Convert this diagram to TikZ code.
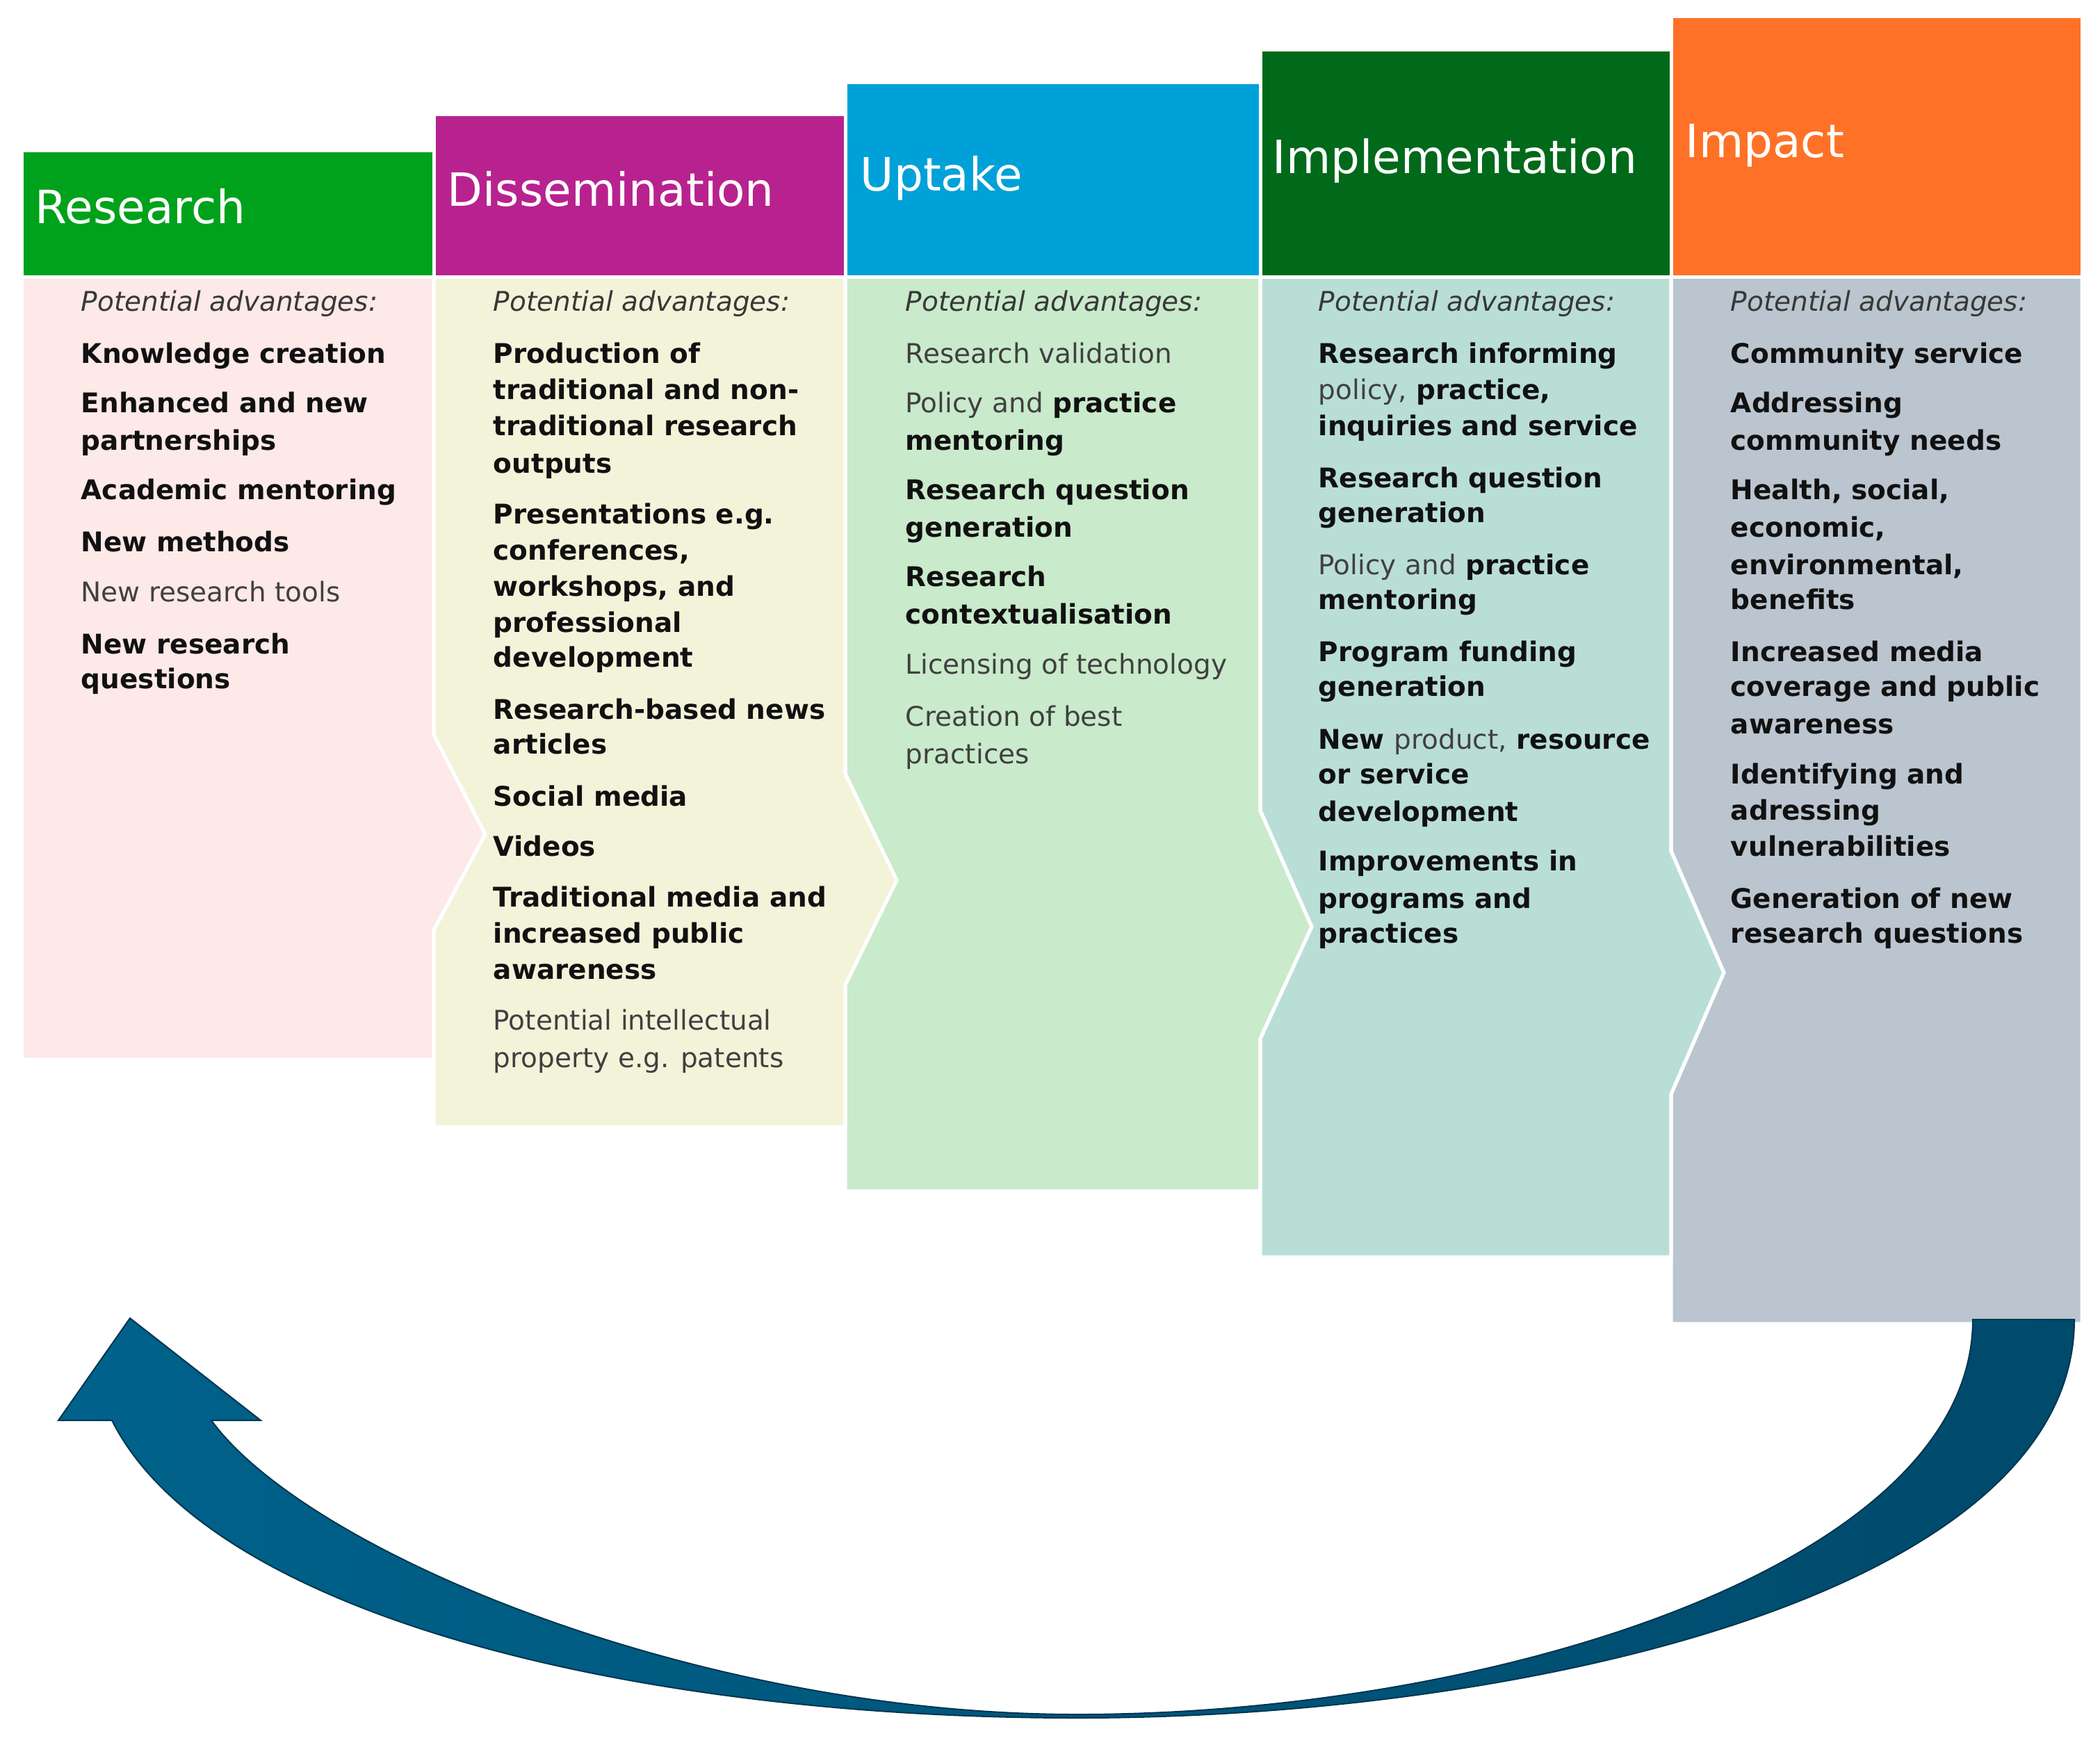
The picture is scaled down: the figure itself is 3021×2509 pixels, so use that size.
\documentclass[tikz,border=0pt]{standalone}
\usepackage{fontspec}
\setmainfont{DejaVu Sans}[ItalicFont={DejaVu Sans Oblique},BoldFont={DejaVu Sans Bold},BoldItalicFont={DejaVu Sans Bold Oblique}]
\definecolor{hRes}{HTML}{00A21B}
\definecolor{hDis}{HTML}{B8228F}
\definecolor{hUpt}{HTML}{00A1D8}
\definecolor{hImp}{HTML}{00691A}
\definecolor{hImc}{HTML}{FF7126}
\definecolor{bRes}{HTML}{FDE9E7}
\definecolor{bDis}{HTML}{F3F3DA}
\definecolor{bUpt}{HTML}{C9EACB}
\definecolor{bImp}{HTML}{B9DED6}
\definecolor{bImc}{HTML}{BAC5CF}
\definecolor{tbold}{HTML}{111111}
\definecolor{treg}{HTML}{404040}
\definecolor{tital}{HTML}{383838}
\definecolor{arrL}{HTML}{00628B}
\definecolor{arrR}{HTML}{004A6B}
\definecolor{arrE}{HTML}{00354F}
\newcommand\bo[1]{{\bfseries\color{tbold}#1}}
\newcommand\rg[1]{{\mdseries\color{treg}#1}}
\newcommand\potadv{{\mdseries\itshape\color{tital}Potential advantages:}}
\newcommand\txtline[4]{\node[txt] (#1) at (#2,#3) {#4};}
\begin{document}
\begin{tikzpicture}[x=0.25pt,y=-0.25pt,
  hbox/.style={draw=white,line width=1.25pt},
  bbox/.style={draw=white,line width=1.25pt,line join=miter},
  htext/.style={anchor=base west,inner sep=0pt,text=white,font=\fontsize{16.5}{20}\selectfont},
  txt/.style={anchor=base west,inner sep=0pt,font=\fontsize{9.75}{13.5}\selectfont\bfseries,text=tbold},
  arrowsty/.style={left color=arrL,right color=arrR,draw=arrE,line width=0.5pt,line join=miter}]
\useasboundingbox (0,0) rectangle (3021,2509);
% ---------- bodies ----------
\fill[bRes,bbox] (31,398) -- (624,398) -- (624,1057) -- (698,1200) -- (624,1338) -- (624,1524) -- (31,1524) -- cycle;
\fill[bDis,bbox] (624,398) -- (1216,398) -- (1216,1113) -- (1290,1266) -- (1216,1417) -- (1216,1621) -- (624,1621) -- (624,1338) -- (698,1200) -- (624,1057) -- cycle;
\fill[bUpt,bbox] (1216,398) -- (1813,398) -- (1813,1166) -- (1887,1333) -- (1813,1494) -- (1813,1713) -- (1216,1713) -- (1216,1417) -- (1290,1266) -- (1216,1113) -- cycle;
\fill[bImp,bbox] (1813,398) -- (2404,398) -- (2404,1224) -- (2480,1399) -- (2404,1574) -- (2404,1808) -- (1813,1808) -- (1813,1494) -- (1887,1333) -- (1813,1166) -- cycle;
\fill[bImc,bbox] (2404,398) -- (2995,398) -- (2995,1904) -- (2404,1904) -- (2404,1574) -- (2480,1399) -- (2404,1224) -- cycle;
\draw[bbox] (31,398) -- (624,398) -- (624,1057) -- (698,1200) -- (624,1338) -- (624,1524) -- (31,1524) -- cycle;
\draw[bbox] (1216,398) -- (1216,1113) -- (1290,1266) -- (1216,1417) -- (1216,1621);
\draw[bbox] (1813,398) -- (1813,1166) -- (1887,1333) -- (1813,1494) -- (1813,1713);
\draw[bbox] (2404,398) -- (2404,1224) -- (2480,1399) -- (2404,1574) -- (2404,1808);
% ---------- headers ----------
\fill[hRes,hbox] (31,216) rectangle (624,398);
\fill[hDis,hbox] (624,164) rectangle (1216,398);
\fill[hUpt,hbox] (1216,118) rectangle (1813,398);
\fill[hImp,hbox] (1813,71) rectangle (2404,398);
\fill[hImc,hbox] (2404,23) rectangle (2995,398);
\node[htext] (hR) at (50,321) {Research};
\node[htext] (hD) at (643,296) {Dissemination};
\node[htext] (hU) at (1237,274) {Uptake};
\node[htext] (hI) at (1830,249) {Implementation};
\node[htext] (hP) at (2424,226) {Impact};
% ---------- Research ----------
\txtline{r0}{116}{447}{\potadv}
\txtline{r1}{116}{522}{Knowledge creation}
\txtline{r2}{116}{593}{Enhanced and new}
\txtline{r3}{116}{647}{partnerships}
\txtline{r4}{116}{718}{Academic mentoring}
\txtline{r5}{116}{793}{New methods}
\txtline{r6}{116}{865}{\rg{New research tools}}
\txtline{r7}{116}{940}{New research}
\txtline{r8}{116}{990}{questions}
% ---------- Dissemination ----------
\txtline{d0}{709}{447}{\potadv}
\txtline{d1}{709}{522}{Production of}
\txtline{d2}{709}{574}{traditional and non-}
\txtline{d3}{709}{626}{traditional research}
\txtline{d4}{709}{680}{outputs}
\txtline{d5}{709}{753}{Presentations e.g.}
\txtline{d6}{709}{805}{conferences,}
\txtline{d7}{709}{857}{workshops, and}
\txtline{d8}{709}{909}{professional}
\txtline{d9}{709}{959}{development}
\txtline{d10}{709}{1034}{Research-based news}
\txtline{d11}{709}{1084}{articles}
\txtline{d12}{709}{1159}{Social media}
\txtline{d13}{709}{1231}{Videos}
\txtline{d14}{709}{1304}{Traditional media and}
\txtline{d15}{709}{1356}{increased public}
\txtline{d16}{709}{1408}{awareness}
\txtline{d17}{709}{1481}{\rg{Potential intellectual}}
\txtline{d18}{709}{1535}{\rg{property e.g. patents}}
% ---------- Uptake ----------
\txtline{u0}{1302}{447}{\potadv}
\txtline{u1}{1302}{522}{\rg{Research validation}}
\txtline{u2}{1302}{593}{\rg{Policy and} practice}
\txtline{u3}{1302}{647}{mentoring}
\txtline{u4}{1302}{718}{Research question}
\txtline{u5}{1302}{772}{generation}
\txtline{u6}{1302}{843}{Research}
\txtline{u7}{1302}{897}{contextualisation}
\txtline{u8}{1302}{969}{\rg{Licensing of technology}}
\txtline{u9}{1302}{1044}{\rg{Creation of best}}
\txtline{u10}{1302}{1098}{\rg{practices}}
% ---------- Implementation ----------
\txtline{i0}{1896}{447}{\potadv}
\txtline{i1}{1896}{522}{Research informing}
\txtline{i2}{1896}{574}{\rg{policy,} practice,}
\txtline{i3}{1896}{626}{inquiries and service}
\txtline{i4}{1896}{701}{Research question}
\txtline{i5}{1896}{751}{generation}
\txtline{i6}{1896}{826}{\rg{Policy and} practice}
\txtline{i7}{1896}{876}{mentoring}
\txtline{i8}{1896}{951}{Program funding}
\txtline{i9}{1896}{1001}{generation}
\txtline{i10}{1896}{1077}{New \rg{product,} resource}
\txtline{i11}{1896}{1127}{or service}
\txtline{i12}{1896}{1181}{development}
\txtline{i13}{1896}{1252}{Improvements in}
\txtline{i14}{1896}{1306}{programs and}
\txtline{i15}{1896}{1356}{practices}
% ---------- Impact ----------
\txtline{p0}{2489}{447}{\potadv}
\txtline{p1}{2489}{522}{Community service}
\txtline{p2}{2489}{593}{Addressing}
\txtline{p3}{2489}{647}{community needs}
\txtline{p4}{2489}{718}{Health, social,}
\txtline{p5}{2489}{772}{economic,}
\txtline{p6}{2489}{826}{environmental,}
\txtline{p7}{2489}{876}{benefits}
\txtline{p8}{2489}{951}{Increased media}
\txtline{p9}{2489}{1001}{coverage and public}
\txtline{p10}{2489}{1055}{awareness}
\txtline{p11}{2489}{1127}{Identifying and}
\txtline{p12}{2489}{1179}{adressing}
\txtline{p13}{2489}{1231}{vulnerabilities}
\txtline{p14}{2489}{1306}{Generation of new}
\txtline{p15}{2489}{1356}{research questions}
% ---------- return arrow ----------
\shadedraw[arrowsty] (2984,1898) .. controls (2984,2290) and (2200,2471) .. (1550,2471)
  .. controls (900,2471) and (300,2320) .. (161,2043)
  -- (84,2043) -- (187,1896) -- (375,2043) -- (304,2043)
  .. controls (440,2230) and (1000,2466) .. (1550,2466)
  .. controls (2150,2466) and (2838,2250) .. (2838,1898) -- cycle;
\end{tikzpicture}
\end{document}
